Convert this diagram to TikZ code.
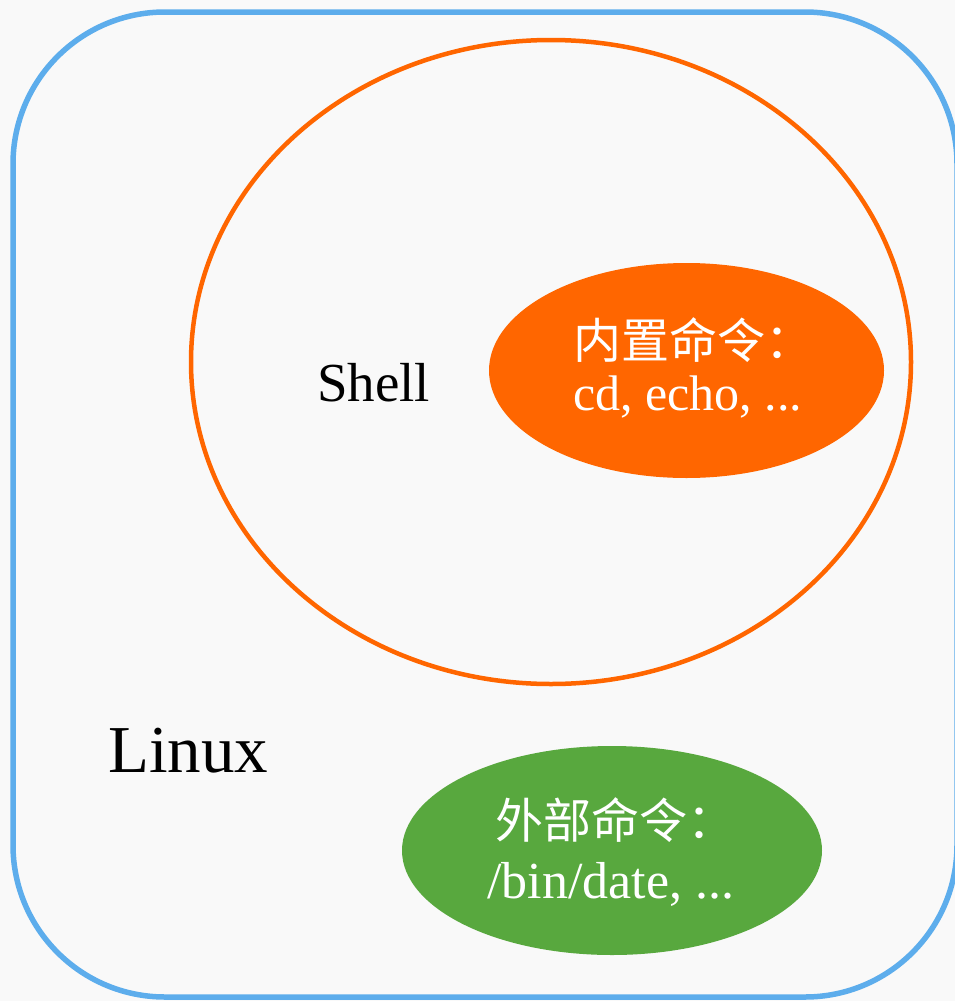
\documentclass[tikz,border=0pt]{standalone}
\usepackage{fontspec}
\setmainfont{Liberation Serif}
\newfontfamily\cjk{Noto Sans CJK SC}
\definecolor{bgc}{HTML}{F9F9F9}
\definecolor{linuxblue}{HTML}{5DADEC}
\definecolor{shellorange}{HTML}{FF6600}
\definecolor{extgreen}{HTML}{58A83E}
\begin{document}
\begin{tikzpicture}[x=1pt,y=-1pt,
  label/.style={inner sep=0pt, anchor=base west},
  whitetext/.style={label, text=white}]
\fill[bgc] (0,0) rectangle (955,1001);
\useasboundingbox (0,0) rectangle (955,1001);
% Linux box
\draw[linuxblue, line width=5.5pt, rounded corners=152pt] (13,12) rectangle (957,997);
% Shell circle
\draw[shellorange, line width=4.5pt] (551,362) ellipse [x radius=360, y radius=322];
% built-in ellipse
\fill[shellorange] (686.5,370.5) ellipse [x radius=197.5, y radius=107.5];
% external ellipse
\fill[extgreen] (612,850.5) ellipse [x radius=210, y radius=104.5];
% texts
\node[label, font=\fontsize{55}{60}\selectfont] (shell) at (317,401) {Shell};
\node[label, font=\fontsize{67}{72}\selectfont] (linux) at (108,772) {Linux};
\node[whitetext, font=\cjk\fontsize{48}{54}\selectfont] (bi1) at (573,358) {内置命令：};
\node[whitetext, font=\fontsize{50}{54}\selectfont] (bi2) at (573,410) {cd, echo, ...};
\node[whitetext, font=\cjk\fontsize{48}{54}\selectfont] (ex1) at (495,838) {外部命令：};
\node[whitetext, font=\fontsize{52}{56}\selectfont] (ex2) at (487,898) {/bin/date, ...};
\end{tikzpicture}
\end{document}
